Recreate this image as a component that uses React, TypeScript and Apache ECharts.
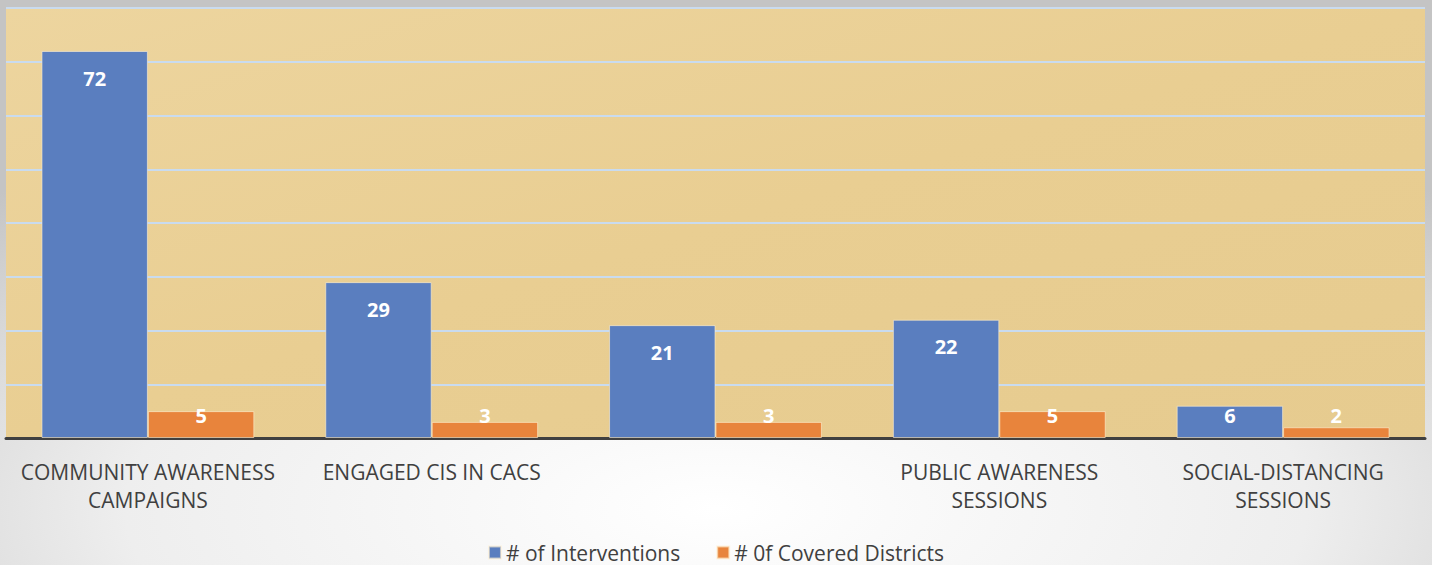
import React, { useEffect, useRef } from "react";
import * as echarts from "echarts";

const categories = [
  "COMMUNITY AWARENESS\nCAMPAIGNS",
  "ENGAGED CIS IN CACS",
  "",
  "PUBLIC AWARENESS\nSESSIONS",
  "SOCIAL-DISTANCING\nSESSIONS",
];
const interventions = [72, 29, 21, 22, 6];
const coveredDistricts = [5, 3, 3, 5, 2];
const seriesNames = ["# of Interventions", "# 0f Covered Districts"];

const FONT = "'Open Sans', 'Noto Sans', sans-serif";

function labelFor(v: number) {
  const tall = v >= 10;
  return {
    show: true,
    position: tall ? "insideTop" : "insideBottom",
    distance: tall ? 17 : 13,
    color: "#ffffff",
    fontWeight: "bold",
    fontSize: 20,
    fontFamily: FONT,
  };
}

export default function App() {
  const ref = useRef<HTMLDivElement>(null);
  useEffect(() => {
    document.body.style.margin = "0";
    const chart = echarts.init(ref.current!, null, { renderer: "svg" });
    chart.setOption({
      animation: false,
      backgroundColor: {
        type: "radial",
        x: 0.5,
        y: 0.9,
        r: 0.75,
        colorStops: [
          { offset: 0, color: "#ffffff" },
          { offset: 0.55, color: "#eeeeee" },
          { offset: 1, color: "#c4c4c4" },
        ],
      },
      grid: {
        left: 6,
        right: 7,
        top: 8,
        bottom: 127,
        show: true,
        borderWidth: 0,
        backgroundColor: {
          type: "linear",
          x: 0,
          y: 0,
          x2: 1,
          y2: 1,
          colorStops: [
            { offset: 0, color: "#edd59f" },
            { offset: 0.5, color: "#e9ce92" },
            { offset: 1, color: "#e6cb8f" },
          ],
        },
      },
      legend: {
        bottom: 0,
        left: "center",
        padding: [5, 5, 2, 5],
        itemWidth: 12,
        itemHeight: 12,
        itemGap: 36,
        icon: "rect",
        textStyle: { fontSize: 21, color: "#404040", fontFamily: FONT },
        data: seriesNames,
      },
      xAxis: {
        type: "category",
        data: categories,
        axisLine: { show: true, lineStyle: { color: "#404040", width: 3 } },
        axisTick: { show: false },
        axisLabel: {
          interval: 0,
          margin: 20,
          fontSize: 21,
          lineHeight: 28,
          color: "#404040",
          fontFamily: FONT,
        },
      },
      yAxis: {
        type: "value",
        min: 0,
        max: 80,
        interval: 10,
        axisLabel: { show: false },
        axisLine: { show: false },
        axisTick: { show: false },
        splitLine: { show: true, lineStyle: { color: "#c9dbef", width: 2 } },
      },
      series: [
        {
          name: seriesNames[0],
          type: "bar",
          barGap: "0%",
          barCategoryGap: "25%",
          itemStyle: { color: "#5a7ebf", borderColor: "rgba(255,240,210,0.6)", borderWidth: 1 },
          data: interventions.map((v) => ({ value: v, label: labelFor(v) })),
        },
        {
          name: seriesNames[1],
          type: "bar",
          itemStyle: { color: "#e8843c", borderColor: "rgba(255,240,210,0.6)", borderWidth: 1 },
          data: coveredDistricts.map((v) => ({ value: v, label: labelFor(v) })),
        },
      ],
    });
    return () => chart.dispose();
  }, []);
  return <div ref={ref} style={{ width: 1432, height: 565 }} />;
}
